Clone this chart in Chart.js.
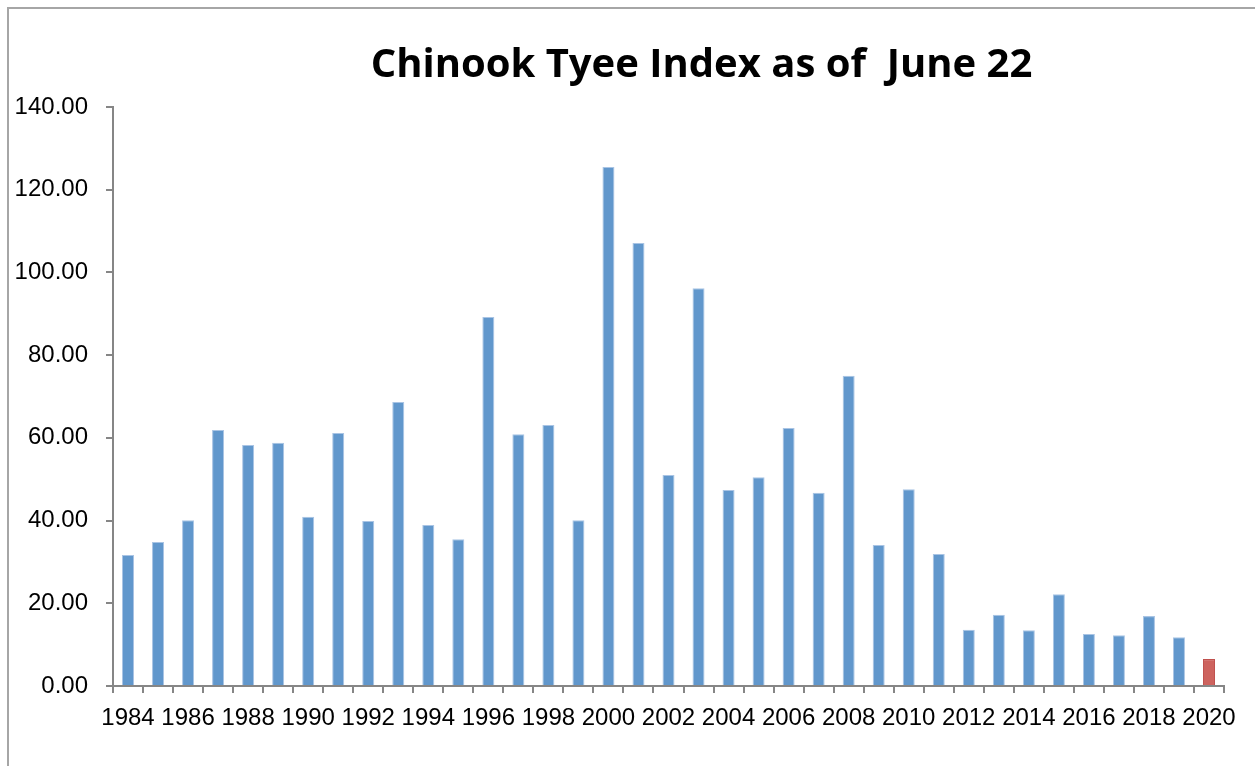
<!DOCTYPE html>
<html>
<head>
<meta charset="utf-8">
<script src="https://cdn.jsdelivr.net/npm/chart.js@4.4.1/dist/chart.umd.min.js"></script>
<style>
html,body{margin:0;padding:0;background:#fff;}
#wrap{position:absolute;left:0;top:0;width:1255px;height:766px;}
</style>
</head>
<body>
<div id="wrap"><canvas id="c" width="1255" height="766"></canvas></div>
<script>
const years = ['1984','1985','1986','1987','1988','1989','1990','1991','1992','1993','1994','1995','1996','1997','1998','1999','2000','2001','2002','2003','2004','2005','2006','2007','2008','2009','2010','2011','2012','2013','2014','2015','2016','2017','2018','2019','2020'];
const tyeeIndex = [31.7,34.8,40.1,61.9,58.3,58.8,40.9,61.2,39.9,68.7,38.9,35.5,89.2,60.9,63.1,40.1,125.5,107.1,51.0,96.2,47.4,50.5,62.4,46.7,75.0,34.1,47.6,31.9,13.6,17.2,13.5,22.2,12.6,12.3,16.9,11.8,6.5];
const titleText = 'Chinook Tyee Index as of  June 22';
const yMax = 140;
const yStep = 20;

const fillColors = years.map((y,i)=> i === years.length-1 ? '#CD635E' : '#6197CC');
const borderColors = years.map((y,i)=> i === years.length-1 ? '#C0504D' : '#A9C4E4');

const frameAndTitle = {
  id:'frameAndTitle',
  beforeDraw(chart){
    const ctx = chart.ctx;
    ctx.save();
    ctx.strokeStyle = '#A6A6A6';
    ctx.lineWidth = 2;
    ctx.beginPath();
    ctx.moveTo(8, 766);
    ctx.lineTo(8, 8);
    ctx.lineTo(1255, 8);
    ctx.stroke();
    ctx.fillStyle = '#000';
    ctx.font = "bold 40px 'Open Sans', sans-serif";
    ctx.textAlign = 'center';
    ctx.textBaseline = 'middle';
    ctx.fillText(titleText, 701.5, 66);
    ctx.restore();
  }
};

const FONT = "'Liberation Sans', Arial, sans-serif";

new Chart(document.getElementById('c'), {
  type:'bar',
  data:{
    labels: years,
    datasets:[{
      data: tyeeIndex,
      backgroundColor: fillColors,
      borderColor: borderColors,
      borderWidth: 1,
      barPercentage: 0.4,
      categoryPercentage: 1.0
    }]
  },
  options:{
    responsive:false,
    animation:false,
    devicePixelRatio:1,
    layout:{padding:{left:0,right:31,top:107,bottom:0}},
    plugins:{
      legend:{display:false},
      tooltip:{enabled:false},
      title:{display:false}
    },
    scales:{
      x:{
        offset:true,
        grid:{display:true, offset:true, drawOnChartArea:false, drawTicks:true, tickLength:7, color:'#868686', lineWidth:2},
        border:{display:true, color:'#868686', width:2},
        ticks:{
          autoSkip:false, maxRotation:0, minRotation:0, padding:11,
          color:'#000',
          font:{family:FONT, size:24},
          callback:function(v,i){ return i % 2 === 0 ? years[i] : ''; }
        },
        afterFit(scale){ scale.height = 80; }
      },
      y:{
        min:0, max:yMax,
        grid:{display:true, drawOnChartArea:false, drawTicks:true, tickLength:7, color:'#868686', lineWidth:2},
        border:{display:true, color:'#868686', width:2},
        ticks:{
          stepSize:yStep, padding:18, color:'#000',
          font:{family:FONT, size:24},
          callback:function(v){ return v.toFixed(2); }
        },
        afterFit(scale){ scale.width = 113; }
      }
    }
  },
  plugins:[frameAndTitle]
});
</script>
</body>
</html>
